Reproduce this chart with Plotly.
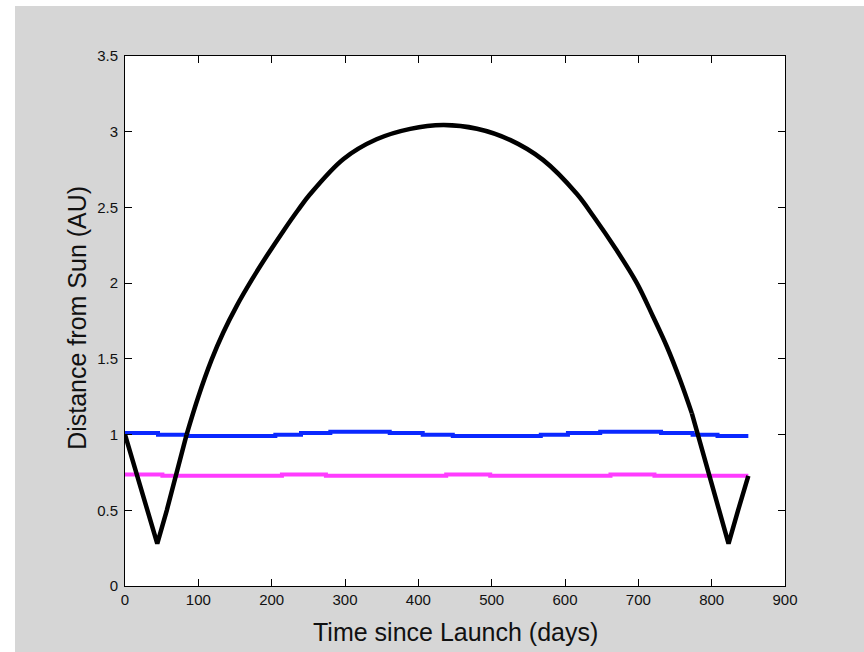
import plotly.graph_objects as go

# ---- data ----
craft_days = [0, 10, 20, 34, 44, 57, 70, 84, 100, 118, 134, 152, 173, 193, 216, 236,
              252, 298, 343, 389, 434, 480, 525, 570, 616, 639, 670, 698, 720, 739,
              757, 773, 791, 807, 823, 836, 848, 850]
craft_dist = [1.0, 0.84, 0.68, 0.46, 0.28, 0.50, 0.735, 1.0, 1.25, 1.493, 1.674, 1.847,
              2.023, 2.177, 2.345, 2.483, 2.585, 2.82, 2.95, 3.019, 3.044, 3.02, 2.946,
              2.814, 2.59, 2.44, 2.22, 2.00, 1.78, 1.58, 1.36, 1.14, 0.83, 0.54, 0.28,
              0.50, 0.70, 0.727]

earth_days = [0, 45, 85, 205, 240, 280, 361, 406, 447, 567, 604, 648, 731, 774, 808, 850]
earth_dist = [1.010, 0.999, 0.991, 0.999, 1.010, 1.019, 1.010, 0.999, 0.991, 0.999,
              1.010, 1.019, 1.010, 0.999, 0.991, 0.991]

venus_days = [0, 51, 214, 274, 438, 498, 662, 722, 850]
venus_dist = [0.736, 0.728, 0.736, 0.728, 0.736, 0.728, 0.736, 0.728, 0.728]

x_ticks = [0, 100, 200, 300, 400, 500, 600, 700, 800, 900]
y_ticks = [0, 0.5, 1, 1.5, 2, 2.5, 3, 3.5]
x_title = "Time since Launch (days)"
y_title = "Distance from Sun (AU)"

FONT = "Liberation Sans, Arial, Helvetica, sans-serif"
GRAY = "#d6d6d6"

fig = go.Figure()
fig.add_trace(go.Scatter(x=earth_days, y=earth_dist, mode="lines", line_shape="hv",
                         line=dict(color="#0a28ff", width=4), showlegend=False))
fig.add_trace(go.Scatter(x=venus_days, y=venus_dist, mode="lines", line_shape="hv",
                         line=dict(color="#ff3cff", width=4), showlegend=False))

# spacecraft: straight dips near Venus/Earth, smooth arch in between
i1 = craft_days.index(84)
i2 = craft_days.index(773)
black = dict(color="black", width=4.5)
fig.add_trace(go.Scatter(x=craft_days[:i1 + 1], y=craft_dist[:i1 + 1], mode="lines",
                         line=black, showlegend=False))
fig.add_trace(go.Scatter(x=craft_days[i1:i2 + 1], y=craft_dist[i1:i2 + 1], mode="lines",
                         line=dict(color="black", width=4.5, shape="spline", smoothing=1),
                         showlegend=False))
fig.add_trace(go.Scatter(x=craft_days[i2:], y=craft_dist[i2:], mode="lines",
                         line=black, showlegend=False))

axis_common = dict(showgrid=False, zeroline=False, showline=True, linecolor="black",
                   linewidth=1, mirror="allticks", ticks="inside", ticklen=7,
                   tickwidth=1, tickcolor="black",
                   tickfont=dict(family=FONT, size=15, color="#111111"))

fig.update_xaxes(range=[0, 900], tickvals=x_ticks, **axis_common)
fig.update_yaxes(range=[0, 3.5], tickvals=y_ticks, ticklabelstandoff=3, **axis_common)

fig.update_layout(
    width=864, height=652,
    margin=dict(l=125, r=79, t=56, b=66),
    paper_bgcolor="white", plot_bgcolor="white",
    shapes=[
        dict(type="rect", xref="paper", yref="paper", x0=-0.16667, x1=1.14,
             y0=-0.15, y1=1.09434, fillcolor=GRAY, line=dict(width=0), layer="below"),
        dict(type="rect", xref="paper", yref="paper", x0=0, x1=1, y0=0, y1=1,
             fillcolor="white", line=dict(width=0), layer="below"),
    ],
    annotations=[
        dict(text=x_title, xref="paper", yref="paper", x=0.5, y=-0.0868,
             xanchor="center", yanchor="middle", showarrow=False,
             font=dict(family=FONT, size=25, color="#111111")),
        dict(text=y_title, xref="paper", yref="paper", x=-0.0727, y=0.506,
             xanchor="center", yanchor="middle", textangle=-90, showarrow=False,
             font=dict(family=FONT, size=25, color="#111111")),
    ],
)

fig.write_html("out.html", config={"displayModeBar": False},
               post_script="document.body.style.margin='0';document.body.style.overflow='hidden';")
